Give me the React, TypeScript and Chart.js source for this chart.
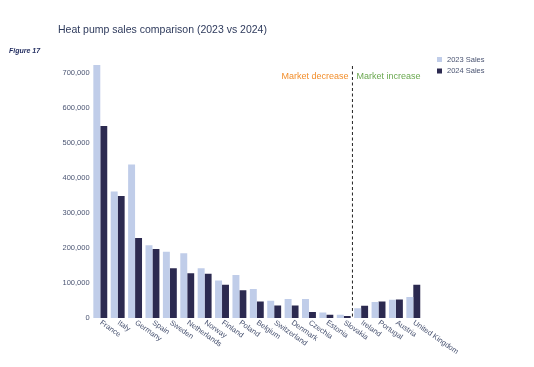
import React, { useEffect, useRef } from "react";
import { Chart, registerables } from "chart.js";

Chart.register(...registerables);

const countries = [
  "France", "Italy", "Germany", "Spain", "Sweden", "Netherlands", "Norway",
  "Finland", "Poland", "Belgium", "Switzerland", "Denmark", "Czechia",
  "Estonia", "Slovakia", "Ireland", "Portugal", "Austria", "United Kingdom",
];
const sales2023 = [
  722000, 361000, 438000, 208000, 189000, 185000, 142000, 107000, 123000,
  83000, 49000, 54000, 54000, 16000, 9000, 28000, 46000, 52000, 60000,
];
const sales2024 = [
  548000, 348000, 228000, 197000, 142000, 128000, 126000, 95000, 79000,
  47000, 36000, 36000, 17000, 9000, 6000, 35000, 47000, 53000, 95000,
];
const yTicks = [0, 100000, 200000, 300000, 400000, 500000, 600000, 700000];
const seriesNames = ["2023 Sales", "2024 Sales"];
const titleText = "Heat pump sales comparison (2023 vs 2024)";
const figureText = "Figure 17";
const decreaseText = "Market decrease";
const increaseText = "Market increase";
const dividerAfterIndex = 14; // between Slovakia and Ireland

const LIGHT = "#c0cde9";
const DARK = "#2c2a50";
const TEXT = "#4a5472";
const FONT = "Arial, 'Liberation Sans', sans-serif";

const overlay = {
  id: "overlay",
  afterDraw(chart: any) {
    const ctx = chart.ctx;
    const xs = chart.scales.x;
    const area = chart.chartArea;
    ctx.save();

    // title
    ctx.fillStyle = "#2e3a5c";
    ctx.font = `10.5px ${FONT}`;
    ctx.textAlign = "left";
    ctx.textBaseline = "middle";
    ctx.fillText(titleText, 58, 30);

    // figure label
    ctx.fillStyle = "#1f2a5e";
    ctx.font = `italic bold 7px ${FONT}`;
    ctx.fillText(figureText, 9, 51);

    // x labels rotated
    ctx.fillStyle = TEXT;
    ctx.font = `7.5px ${FONT}`;
    countries.forEach((c, i) => {
      const x = xs.getPixelForValue(i);
      ctx.save();
      ctx.translate(x + 0.5, area.bottom + 4);
      ctx.rotate((35 * Math.PI) / 180);
      ctx.textAlign = "left";
      ctx.textBaseline = "middle";
      ctx.fillText(c, 0, 0);
      ctx.restore();
    });

    // divider
    const dx =
      (xs.getPixelForValue(dividerAfterIndex) +
        xs.getPixelForValue(dividerAfterIndex + 1)) / 2;
    ctx.strokeStyle = "#222222";
    ctx.lineWidth = 1;
    ctx.setLineDash([3, 2.5]);
    ctx.beginPath();
    ctx.moveTo(dx, area.top + 2);
    ctx.lineTo(dx, area.bottom);
    ctx.stroke();
    ctx.setLineDash([]);

    ctx.font = `9px ${FONT}`;
    ctx.textBaseline = "middle";
    ctx.fillStyle = "#f28e2b";
    ctx.textAlign = "right";
    ctx.fillText(decreaseText, dx - 4, 77);
    ctx.fillStyle = "#6aa84f";
    ctx.textAlign = "left";
    ctx.fillText(increaseText, dx + 4, 77);

    // legend
    const colors = [LIGHT, DARK];
    ctx.font = `7.5px ${FONT}`;
    seriesNames.forEach((n, i) => {
      const y = 59.5 + i * 11.5;
      ctx.fillStyle = colors[i];
      ctx.fillRect(437, y - 2.5, 5, 5);
      ctx.fillStyle = TEXT;
      ctx.textAlign = "left";
      ctx.fillText(n, 447, y);
    });

    ctx.restore();
  },
};

export default function App() {
  const ref = useRef<HTMLCanvasElement>(null);
  useEffect(() => {
    document.body.style.margin = "0";
    const chart = new Chart(ref.current!, {
      type: "bar",
      data: {
        labels: countries,
        datasets: [
          { label: seriesNames[0], data: sales2023, backgroundColor: LIGHT },
          { label: seriesNames[1], data: sales2024, backgroundColor: DARK },
        ],
      },
      options: {
        animation: false,
        responsive: false,
        layout: { padding: { top: 64, right: 112, left: 0, bottom: 0 } },
        datasets: { bar: { categoryPercentage: 0.8, barPercentage: 1.0 } },
        plugins: { legend: { display: false }, title: { display: false }, tooltip: { enabled: false } },
        scales: {
          x: {
            grid: { display: false },
            border: { display: false },
            ticks: { display: false },
            afterFit(scale: any) {
              scale.height = 49;
            },
          },
          y: {
            min: 0,
            max: 725000,
            grid: { display: false, drawTicks: false },
            border: { display: false },
            ticks: {
              padding: 2,
              color: TEXT,
              font: { family: FONT, size: 7.5 },
              callback: (v: any) => Number(v).toLocaleString("en-US"),
            },
            afterBuildTicks(scale: any) {
              scale.ticks = yTicks.map((v) => ({ value: v }));
            },
            afterFit(scale: any) {
              scale.width = 91.6;
            },
          },
        },
      },
      plugins: [overlay],
    });
    return () => chart.destroy();
  }, []);
  return (
    <div style={{ position: "absolute", left: 0, top: 0, width: 534, height: 367 }}>
      <canvas ref={ref} width={534} height={367} style={{ width: 534, height: 367 }} />
    </div>
  );
}
